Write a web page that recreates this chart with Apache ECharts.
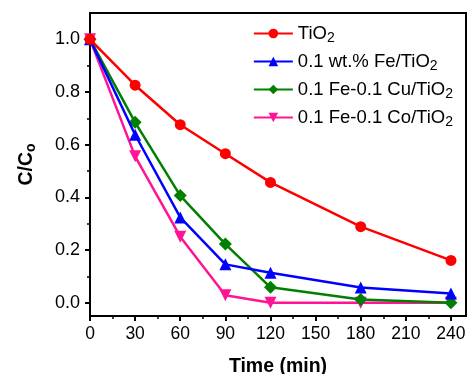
<!DOCTYPE html>
<html><head><meta charset="utf-8">
<script src="https://cdn.jsdelivr.net/npm/echarts@6/dist/echarts.min.js"></script>
<style>html,body{margin:0;padding:0;background:#fff}#c{width:468px;height:374px}</style>
</head><body><div id="c"></div>
<script>
const times = [0, 30, 60, 90, 120, 180, 240];
const tio2 = [1.0, 0.826, 0.676, 0.566, 0.457, 0.289, 0.161];
const fe = [1.0, 0.638, 0.324, 0.146, 0.114, 0.058, 0.035];
const feCu = [1.0, 0.685, 0.407, 0.223, 0.059, 0.013, 0.0];
const feCo = [1.0, 0.556, 0.251, 0.029, 0.0, 0.0, 0.0];
const names = ['TiO2', '0.1 wt.% Fe/TiO2', '0.1 Fe-0.1 Cu/TiO2', '0.1 Fe-0.1 Co/TiO2'];
const labelsRich = ['TiO{s|2}', '0.1 wt.% Fe/TiO{s|2}', '0.1 Fe-0.1 Cu/TiO{s|2}', '0.1 Fe-0.1 Co/TiO{s|2}'];
const xTicks = [0, 30, 60, 90, 120, 150, 180, 210, 240];
const xMinor = [15, 45, 75, 105, 135, 165, 195, 225];
const yTicks = [0, 0.2, 0.4, 0.6, 0.8, 1.0];
const yMinor = [0.1, 0.3, 0.5, 0.7, 0.9];

const font = 'Liberation Sans, Arial, sans-serif';
function pts(arr){ return times.map((t,i)=>[t, arr[i]]); }
const chart = echarts.init(document.getElementById('c'));
const mk = (name, data, color, symbol, size, z, rot) => ({
  name, type:'line', data: pts(data), z,
  symbol, symbolSize:size, symbolRotate: rot||0,
  lineStyle:{color, width:2.5}, itemStyle:{color},
  emphasis:{disabled:true}, animation:false
});
const baseX = {
  type:'value', min:0, max:250, splitLine:{show:false},
  axisLine:{onZero:false, lineStyle:{color:'#000', width:2}},
};
const baseY = {
  type:'value', min:-0.05, max:1.1, splitLine:{show:false},
  axisLine:{onZero:false, lineStyle:{color:'#000', width:2}},
};
chart.setOption({
  animation:false,
  grid:{left:90, top:13, right:2, bottom:58, show:true, borderColor:'#000', borderWidth:2,
    containLabel:false, outerBoundsMode:'none'},
  legend:{
    right: 10, top: 19, orient:'vertical', itemGap:7, itemWidth:39, itemHeight:12,
    data: names,
    formatter: n => labelsRich[names.indexOf(n)],
    textStyle:{fontFamily:font, fontSize:18.5, color:'#000', padding:[0,0,0,0],
      rich:{s:{fontFamily:font, fontSize:14, verticalAlign:'bottom', padding:[9,0,0,0], color:'#000'}}}
  },
  xAxis:[
    Object.assign({}, baseX, {
      name:'Time (min)', nameLocation:'middle', nameGap:41,
      nameTextStyle:{fontFamily:font, fontSize:19.5, fontWeight:'bold', color:'#000'},
      axisTick:{show:true, length:5, lineStyle:{color:'#000', width:2}, customValues:xTicks},
      axisLabel:{fontFamily:font, fontSize:17.5, color:'#000', margin:9, customValues:xTicks}
    }),
    Object.assign({}, baseX, {
      position:'bottom',
      axisTick:{show:true, length:3, lineStyle:{color:'#000', width:1.5}, customValues:xMinor},
      axisLabel:{show:false}
    })
  ],
  yAxis:[
    Object.assign({}, baseY, {
      name:'C/C{s|o}', nameLocation:'middle', nameGap:52,
      nameTextStyle:{fontFamily:font, fontSize:19.5, fontWeight:'bold', color:'#000',
        rich:{s:{fontFamily:font, fontSize:14, fontWeight:'bold', verticalAlign:'bottom', padding:[9,0,0,0]}}},
      axisTick:{show:true, length:5, lineStyle:{color:'#000', width:2}, customValues:yTicks},
      axisLabel:{fontFamily:font, fontSize:18, color:'#000', margin:10, customValues:yTicks,
        formatter: v => (Math.round(v*10)/10).toFixed(1)}
    }),
    Object.assign({}, baseY, {
      position:'left',
      axisTick:{show:true, length:3, lineStyle:{color:'#000', width:1.5}, customValues:yMinor},
      axisLabel:{show:false}
    })
  ],
  series:[
    mk(names[0], tio2, '#ff0000', 'circle', 11, 4),
    mk(names[1], fe, '#0000ff', 'triangle', 12, 3),
    mk(names[2], feCu, '#008000', 'diamond', 13, 2),
    mk(names[3], feCo, '#ff1493', 'triangle', 12, 1, 180)
  ]
});
</script></body></html>
